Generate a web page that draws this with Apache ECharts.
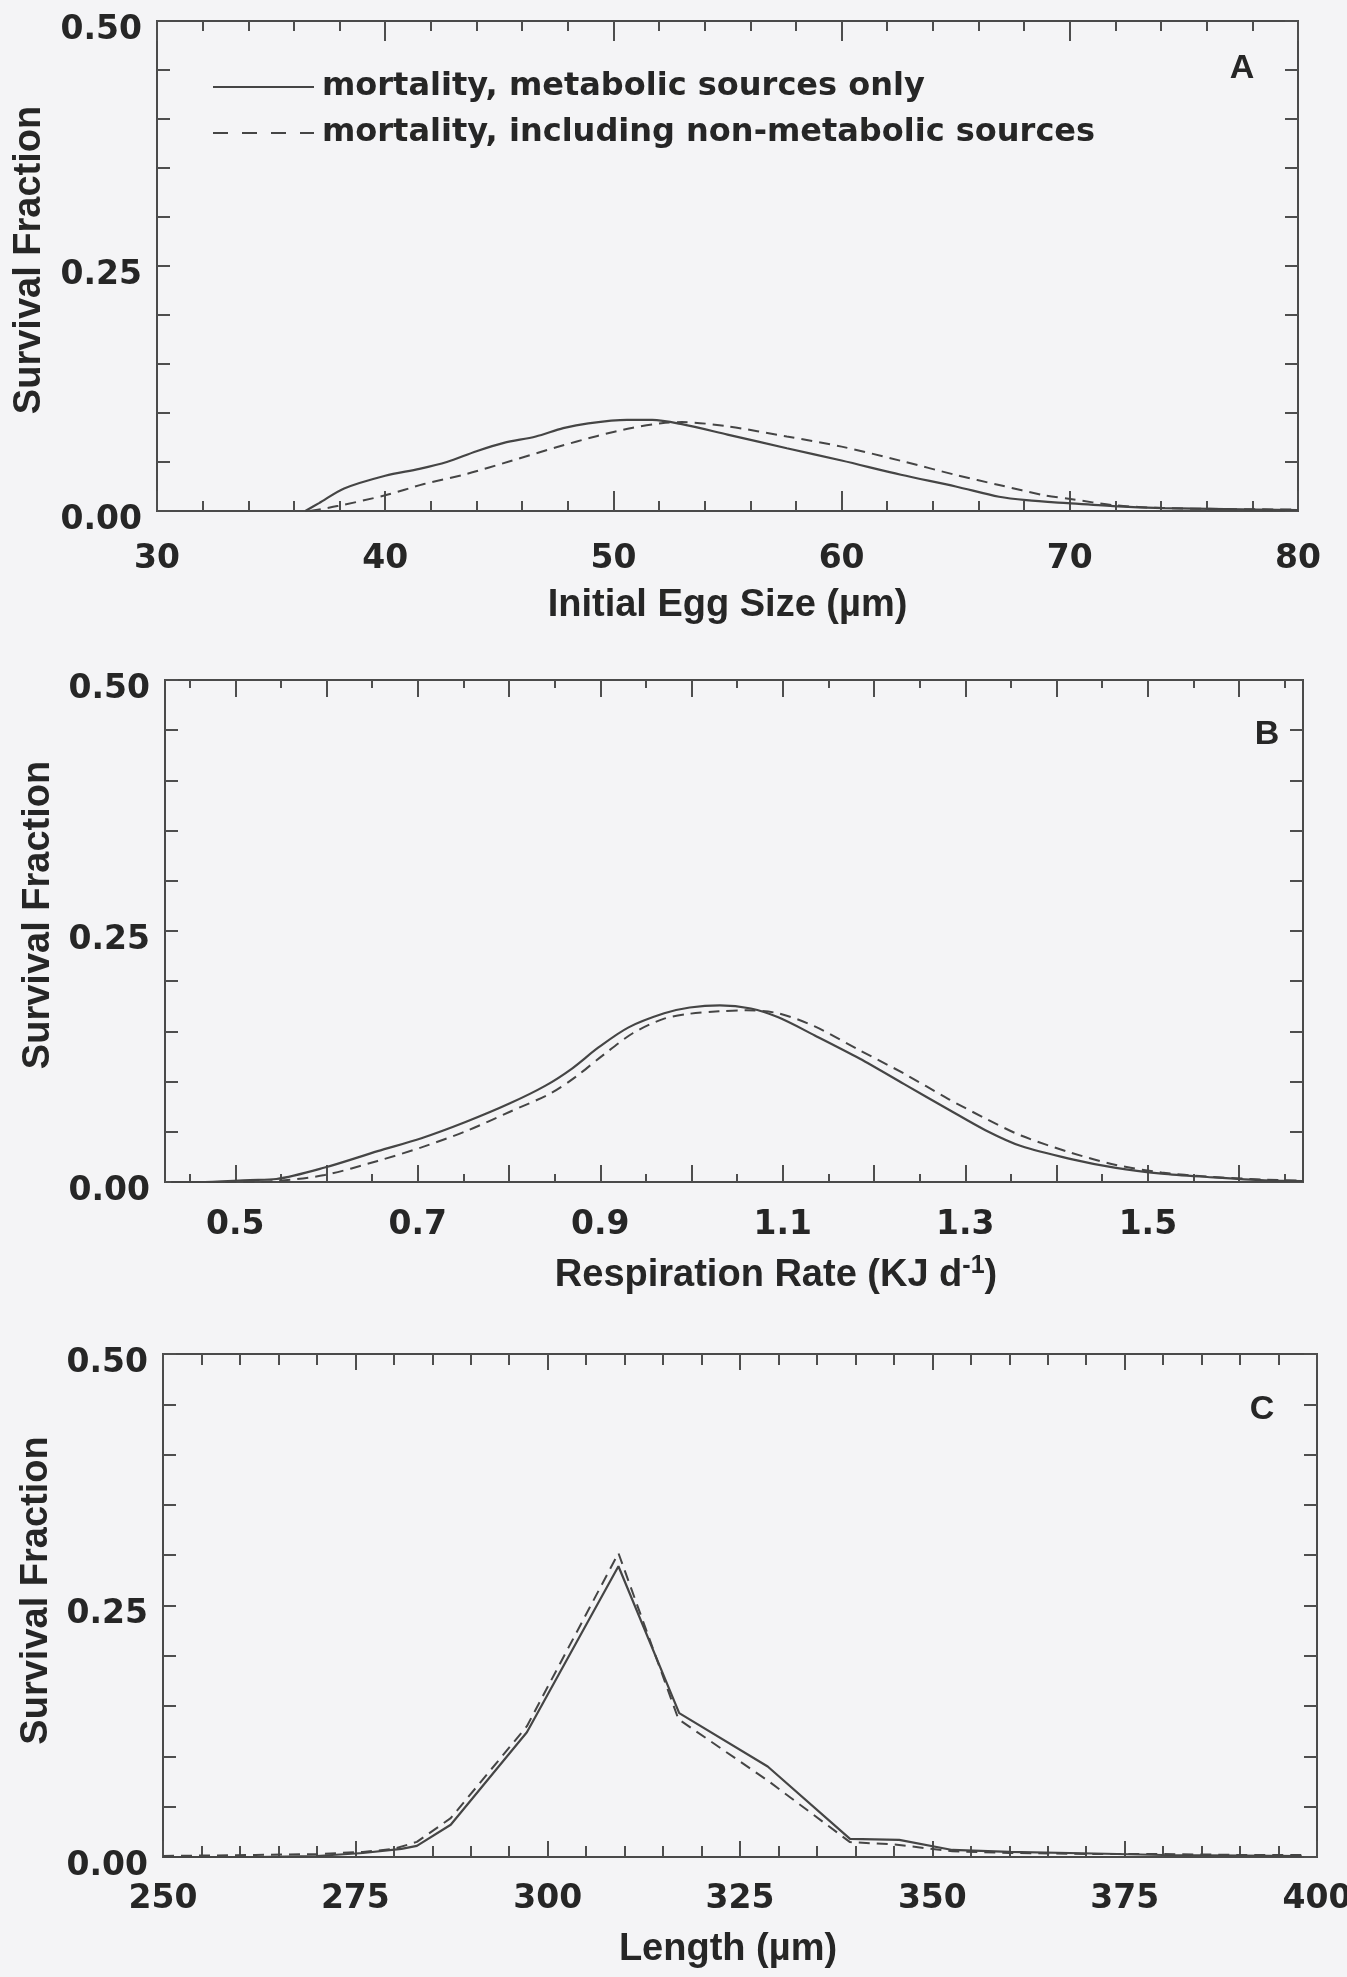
<!DOCTYPE html>
<html>
<head>
<meta charset="utf-8">
<title>Survival Fraction</title>
<script src="https://cdn.jsdelivr.net/npm/echarts@6.0.0/dist/echarts.min.js"></script>
<style>
html,body{margin:0;padding:0;background:#f4f4f6;}
#chart{width:1347px;height:1977px;}
</style>
</head>
<body>
<div id="chart"></div>
<script>
// ---------------- data ----------------
const seriesNames = ['mortality, metabolic sources only', 'mortality, including non-metabolic sources'];
const panelLetters = ['A', 'B', 'C'];
const xTitles = ['Initial Egg Size (\u00b5m)', '{m|Respiration Rate (KJ d}{s|-1}{m|)}', 'Length (\u00b5m)'];
const yTitle = 'Survival Fraction';

const aXLabels = [30, 40, 50, 60, 70, 80];
const bXLabels = [0.5, 0.7, 0.9, 1.1, 1.3, 1.5];
const cXLabels = [250, 275, 300, 325, 350, 375, 400];
const yLabels = [0, 0.25, 0.5];

// Panel A: Initial egg size
const aSolid = [[36.5,0],[37.1,0.008],[38.2,0.023],[40.0,0.036],[41.5,0.043],[42.7,0.050],[44.0,0.061],
  [45.2,0.0695],[46.6,0.076],[47.8,0.0845],[48.9,0.0895],[50.6,0.093],[51.7,0.093],[53.0,0.0886],
  [55.0,0.078],[57.6,0.064],[60.0,0.0515],[62.6,0.037],[65.0,0.025],[66.9,0.0145],[68.1,0.011],
  [69.9,0.008],[71.9,0.005],[74.1,0.003],[76.8,0.002],[80,0.001]];
const aDashed = [[36.7,0],[37.9,0.005],[40.0,0.016],[41.7,0.0275],[43.6,0.038],[45.5,0.051],[47.5,0.065],
  [49.3,0.0766],[50.8,0.0847],[52.1,0.0895],[53.0,0.0907],[55.0,0.0864],[57.6,0.076],[60.0,0.0657],
  [62.6,0.0512],[65.0,0.0368],[66.9,0.0265],[68.9,0.016],[70.1,0.012],[71.9,0.006],[74.1,0.003],
  [76.8,0.002],[80,0.0015]];

// Panel B: Respiration rate
const bSolid = [[0.43,0],[0.46,0],[0.516,0.002],[0.545,0.003],[0.598,0.0144],[0.656,0.0307],[0.704,0.0436],
  [0.753,0.060],[0.801,0.0784],[0.84,0.096],[0.869,0.113],[0.898,0.134],[0.931,0.154],[0.97,0.168],
  [0.998,0.1738],[1.031,0.176],[1.065,0.1728],[1.095,0.164],[1.135,0.146],[1.184,0.123],[1.233,0.0975],
  [1.282,0.072],[1.322,0.0516],[1.361,0.0358],[1.416,0.0228],[1.465,0.014],[1.515,0.0083],[1.565,0.005],
  [1.628,0.0016],[1.67,0.001]];
const bDashed = [[0.43,0],[0.497,0],[0.545,0.001],[0.598,0.0069],[0.656,0.021],[0.704,0.0345],[0.753,0.0507],
  [0.801,0.070],[0.845,0.088],[0.873,0.1047],[0.902,0.1256],[0.936,0.1484],[0.97,0.1627],[0.998,0.1676],
  [1.03,0.170],[1.06,0.171],[1.095,0.168],[1.135,0.155],[1.184,0.1313],[1.233,0.1079],[1.282,0.0824],
  [1.322,0.0633],[1.361,0.0463],[1.416,0.0291],[1.465,0.017],[1.515,0.0095],[1.565,0.0054],[1.628,0.0024],
  [1.67,0.0015]];

// Panel C: Length
const cSolid = [[250,0],[262,0],[270,0.001],[276,0.004],[281,0.008],[283,0.011],[287.4,0.032],[297.3,0.124],
  [309.2,0.289],[317.1,0.143],[328.6,0.090],[339.3,0.018],[345.7,0.017],[352.6,0.007],[360,0.005],
  [371,0.0035],[380,0.002],[390,0.0015],[398,0.001]];
const cDashed = [[250,0.001],[262,0.002],[270,0.003],[276,0.005],[280,0.008],[283,0.015],[287.4,0.0386],
  [297.3,0.130],[309.2,0.302],[317,0.137],[328.6,0.076],[339.3,0.0148],[345,0.0125],[352.6,0.0057],
  [360,0.004],[370,0.003],[380,0.003],[390,0.002],[398,0.002]];

// ---------------- styling / layout ----------------
const INK = '#262626';
const LINE = '#454545';
const TICK = '#4e4e4e';
const tickLS = { color: TICK, width: 2 };
const labelFont = { fontFamily: 'DejaVu Sans', fontWeight: 'bold', fontSize: 33, color: INK };
const titleFont = { fontFamily: 'Liberation Sans', fontWeight: 'bold', fontSize: 38, color: INK };

function inList(list, v) { return list.some(t => Math.abs(t - v) < 1e-9); }

const grids = [
  { left: 157, top: 21, width: 1141, height: 490 },
  { left: 165, top: 680, width: 1138, height: 502 },
  { left: 163, top: 1354, width: 1154, height: 503 }
].map(g => Object.assign(g, { show: true, borderColor: '#4a4a4a', borderWidth: 2, backgroundColor: 'transparent', containLabel: false, outerBoundsMode: 'none' }));

const panels = [
  { xMin: 30, xMax: 80, interval: 10, minorSplit: 5, majorLen: 20, minorLen: 10, labels: aXLabels,
    fmt: v => String(Math.round(v)), margin: 32, nameGap: 76, namePad: [0, 0, 0, 0],
    yGap: 108, yPad: [0, 0, 0, 12], solid: aSolid, dashed: aDashed, smooth: 0.3, letter: [1242, 69] },
  { xMin: 0.423, xMax: 1.670, custom: true, majorLen: 17, minorLen: 8, labels: bXLabels,
    fmt: v => v.toFixed(1), margin: 27, nameGap: 72, namePad: [0, 0, 0, 84],
    yGap: 99, yPad: [0, 0, 0, 32], solid: bSolid, dashed: bDashed, smooth: 0.3, letter: [1267, 735] },
  { xMin: 250, xMax: 400, interval: 25, minorSplit: 5, majorLen: 16, minorLen: 11, labels: cXLabels,
    fmt: v => String(Math.round(v)), margin: 26, nameGap: 74, namePad: [0, 24, 0, 0],
    yGap: 101, yPad: [0, 0, 0, 30], solid: cSolid, dashed: cDashed, smooth: false, letter: [1262, 1410] }
];

const xAxes = [], yAxes = [], series = [], graphics = [];

panels.forEach((p, gi) => {
  const base = { gridIndex: gi, type: 'value', min: p.xMin, max: p.xMax,
    axisLine: { show: false, onZero: false }, splitLine: { show: false }, minorSplitLine: { show: false } };
  const nameStyle = gi === 1
    ? { padding: p.namePad, rich: {
        m: Object.assign({}, titleFont, { lineHeight: 44 }),
        s: Object.assign({}, titleFont, { fontSize: 25, lineHeight: 12, verticalAlign: 'top' }) } }
    : Object.assign({}, titleFont, { padding: p.namePad });
  const mainLabel = Object.assign({}, labelFont, { margin: p.margin, showMinLabel: true, showMaxLabel: true,
    formatter: v => inList(p.labels, v) ? p.fmt(v) : '' });
  const mainIdx = xAxes.length;
  if (!p.custom) {
    const tick = { show: true, inside: true, length: p.majorLen, lineStyle: tickLS };
    const minor = { show: true, splitNumber: p.minorSplit, length: p.minorLen, lineStyle: tickLS };
    xAxes.push(Object.assign({}, base, { position: 'bottom', interval: p.interval, axisTick: tick, minorTick: minor,
      axisLabel: mainLabel, name: xTitles[gi], nameLocation: 'middle', nameGap: p.nameGap, nameTextStyle: nameStyle }));
    xAxes.push(Object.assign({}, base, { position: 'top', interval: p.interval, axisTick: tick, minorTick: minor,
      axisLabel: { show: false } }));
  } else {
    const majors = [], minors = [];
    for (let k = 5; k <= 16; k++) majors.push(k / 10);
    for (let k = 4; k <= 16; k++) minors.push((2 * k + 1) / 20);
    const tickMaj = { show: true, inside: true, length: p.majorLen, lineStyle: tickLS, customValues: majors };
    const tickMin = { show: true, inside: true, length: p.minorLen, lineStyle: tickLS, customValues: minors };
    xAxes.push(Object.assign({}, base, { position: 'bottom', axisTick: tickMaj,
      axisLabel: Object.assign({}, mainLabel, { customValues: p.labels }),
      name: xTitles[gi], nameLocation: 'middle', nameGap: p.nameGap, nameTextStyle: nameStyle }));
    xAxes.push(Object.assign({}, base, { position: 'top', axisTick: tickMaj, axisLabel: { show: false } }));
    xAxes.push(Object.assign({}, base, { position: 'bottom', axisTick: tickMin, axisLabel: { show: false } }));
    xAxes.push(Object.assign({}, base, { position: 'top', axisTick: tickMin, axisLabel: { show: false } }));
  }
  const yBase = { gridIndex: gi, type: 'value', min: 0, max: 0.5, interval: 0.05,
    axisLine: { show: false, onZero: false }, splitLine: { show: false },
    axisTick: { show: true, inside: true, length: 13, lineStyle: tickLS } };
  const yIdx = yAxes.length;
  yAxes.push(Object.assign({}, yBase, { position: 'left',
    axisLabel: Object.assign({}, labelFont, { margin: 15, verticalAlign: 'top', lineHeight: 18,
      showMinLabel: true, showMaxLabel: true,
      formatter: v => inList(yLabels, v) ? v.toFixed(2) : '' }),
    name: yTitle, nameLocation: 'middle', nameGap: p.yGap, nameTextStyle: Object.assign({}, titleFont, { padding: p.yPad }) }));
  yAxes.push(Object.assign({}, yBase, { position: 'right', axisLabel: { show: false } }));

  series.push({ name: seriesNames[0], type: 'line', xAxisIndex: mainIdx, yAxisIndex: yIdx, data: p.solid,
    showSymbol: false, symbol: 'none', smooth: p.smooth, lineStyle: { color: LINE, width: 2.2, type: 'solid' },
    itemStyle: { color: LINE }, z: 3 });
  series.push({ name: seriesNames[1], type: 'line', xAxisIndex: mainIdx, yAxisIndex: yIdx, data: p.dashed,
    showSymbol: false, symbol: 'none', smooth: p.smooth, lineStyle: { color: LINE, width: 2, type: [11, 7] },
    itemStyle: { color: LINE }, z: 2 });

  graphics.push({ type: 'text', x: p.letter[0], y: p.letter[1], z: 10,
    style: { text: panelLetters[gi], fill: INK, fontFamily: 'Liberation Sans', fontWeight: 'bold', fontSize: 34,
      align: 'center', verticalAlign: 'middle' } });
});

const option = {
  backgroundColor: '#f4f4f6',
  animation: false,
  grid: grids,
  xAxis: xAxes,
  yAxis: yAxes,
  legend: {
    left: 207, top: 64, orient: 'vertical', itemWidth: 101, itemHeight: 20, itemGap: 10,
    selectedMode: false,
    itemStyle: { opacity: 0, color: 'rgba(0,0,0,0)', borderWidth: 0 },
    textStyle: { fontFamily: 'DejaVu Sans', fontWeight: 'bold', fontSize: 32, color: INK, lineHeight: 36, padding: [0, 0, 0, 3] },
    data: [
      { name: seriesNames[0] },
      { name: seriesNames[1], lineStyle: { type: [15, 14] } }
    ]
  },
  graphic: graphics,
  series: series
};

const chart = echarts.init(document.getElementById('chart'), null, { renderer: 'canvas' });
chart.setOption(option);
</script>
</body>
</html>
